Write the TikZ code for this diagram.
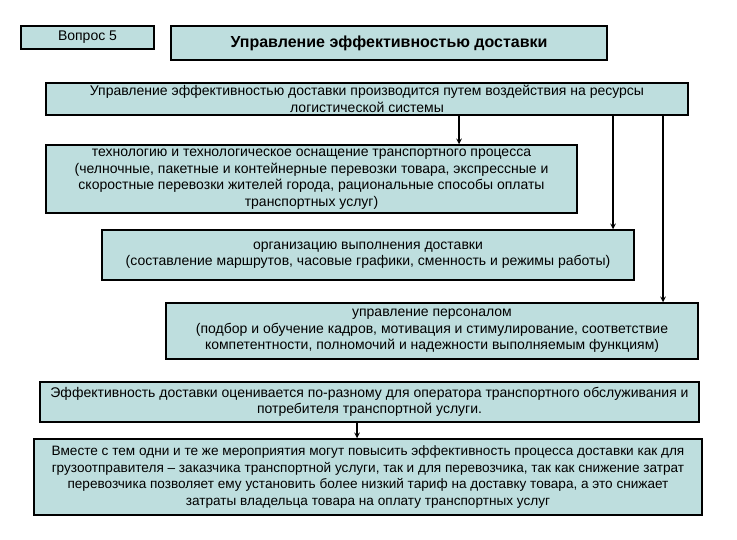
\documentclass[tikz,border=0pt]{standalone}
\usepackage{fontspec}
\setmainfont{Liberation Sans}
\usetikzlibrary{positioning}
\definecolor{boxfill}{RGB}{190,222,222}

\tikzset{
  blk/.style={draw, line width=1.5pt, fill=boxfill, align=center, inner sep=0pt,
    font=\fontsize{14}{16.5}\selectfont},
  arr/.style={->, >=stealth, line width=1.5pt}
}

\begin{document}
\begin{tikzpicture}[x=1pt, y=-1pt]
\useasboundingbox (0,0) rectangle (737,540);

% Heading
\node[blk, minimum width=133, minimum height=23] (q) at (87.5,37.5) {Вопрос 5};
\node[blk, minimum width=436, minimum height=34, font=\fontsize{16}{19}\selectfont\bfseries]
        (title) at (389,43) {Управление эффективностью доставки};

% Resources
\node[blk, minimum width=642, minimum height=32] (b1) at (367,99)
        {Управление эффективностью доставки производится путем воздействия на ресурсы\\логистической системы};
\node[blk, minimum width=531, minimum height=68] (b2) at (311.5,179)
        {технологию и технологическое оснащение транспортного процесса\\(челночные, пакетные и контейнерные перевозки товара, экспрессные и\\скоростные перевозки жителей города, рациональные способы оплаты\\транспортных услуг)};
\node[blk, minimum width=532, minimum height=50] (b3) at (368,255)
        {организацию выполнения доставки\\(составление маршрутов, часовые графики, сменность и режимы работы)};
\node[blk, minimum width=532, minimum height=56] (b4) at (432,331)
        {управление персоналом\\(подбор и обучение кадров, мотивация и стимулирование, соответствие\\компетентности, полномочий и надежности выполняемым функциям)};

% Efficiency
\node[blk, minimum width=659, minimum height=40] (b5) at (369.5,402)
        {Эффективность доставки оценивается по-разному для оператора транспортного обслуживания и\\потребителя транспортной услуги.};
\node[blk, minimum width=668, minimum height=76, font=\fontsize{13.6}{16.5}\selectfont] (b6) at (368,477)
        {Вместе с тем одни и те же мероприятия могут повысить эффективность процесса доставки как для\\грузоотправителя – заказчика транспортной услуги, так и для перевозчика, так как снижение затрат\\перевозчика позволяет ему установить более низкий тариф на доставку товара, а это снижает\\затраты владельца товара на оплату транспортных услуг};

% Connections
\coordinate (c1) at (459,0);
\coordinate (c2) at (613,0);
\coordinate (c3) at (663,0);
\coordinate (c4) at (357,0);
\draw[arr] (b1.south -| c1) -- (b2.north -| c1);
\draw[arr] (b1.south -| c2) -- (b3.north -| c2);
\draw[arr] (b1.south -| c3) -- (b4.north -| c3);
\draw[arr] (b5.south -| c4) -- (b6.north -| c4);

\end{tikzpicture}
\end{document}
